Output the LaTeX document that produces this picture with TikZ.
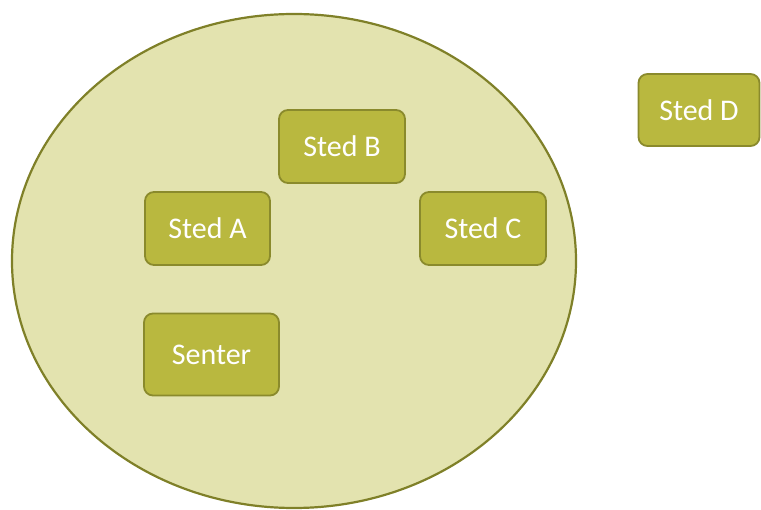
\documentclass[tikz,border=0pt]{standalone}
\usepackage{fontspec}
\setmainfont{Carlito}
\usepackage{xcolor}
\usepackage{tikz}
\usetikzlibrary{shapes.geometric}

\definecolor{omrfill}{HTML}{E3E3AF}
\definecolor{omrline}{HTML}{7F8028}
\definecolor{stedfill}{HTML}{B9B83F}
\definecolor{stedline}{HTML}{8A8A2C}

\tikzset{
	omraade/.style={ellipse, draw=omrline, fill=omrfill, line width=2.2pt},
	sted/.style={rectangle, rounded corners=9pt, draw=stedline, fill=stedfill,
		line width=1.8pt, text=white, font=\fontsize{30}{30}\selectfont, inner sep=0pt}
}

\begin{document}
\begin{tikzpicture}[x=1pt,y=-1pt]
	\useasboundingbox (0,0) rectangle (761,510);
	\node[omraade, minimum width=564pt, minimum height=494pt] (omr) at (294,261) {};
	\node[sted, minimum width=126pt, minimum height=73pt] (stedB) at (342,146.5) {Sted B};
	\node[sted, minimum width=125pt, minimum height=73pt] (stedA) at (207.5,228.5) {Sted A};
	\node[sted, minimum width=126pt, minimum height=73pt] (stedC) at (483,228.5) {Sted C};
	\node[sted, minimum width=135pt, minimum height=82pt] (senter) at (211.5,354.5) {Senter};
	\node[sted, minimum width=121pt, minimum height=72pt] (stedD) at (699,110) {Sted D};
\end{tikzpicture}
\end{document}
